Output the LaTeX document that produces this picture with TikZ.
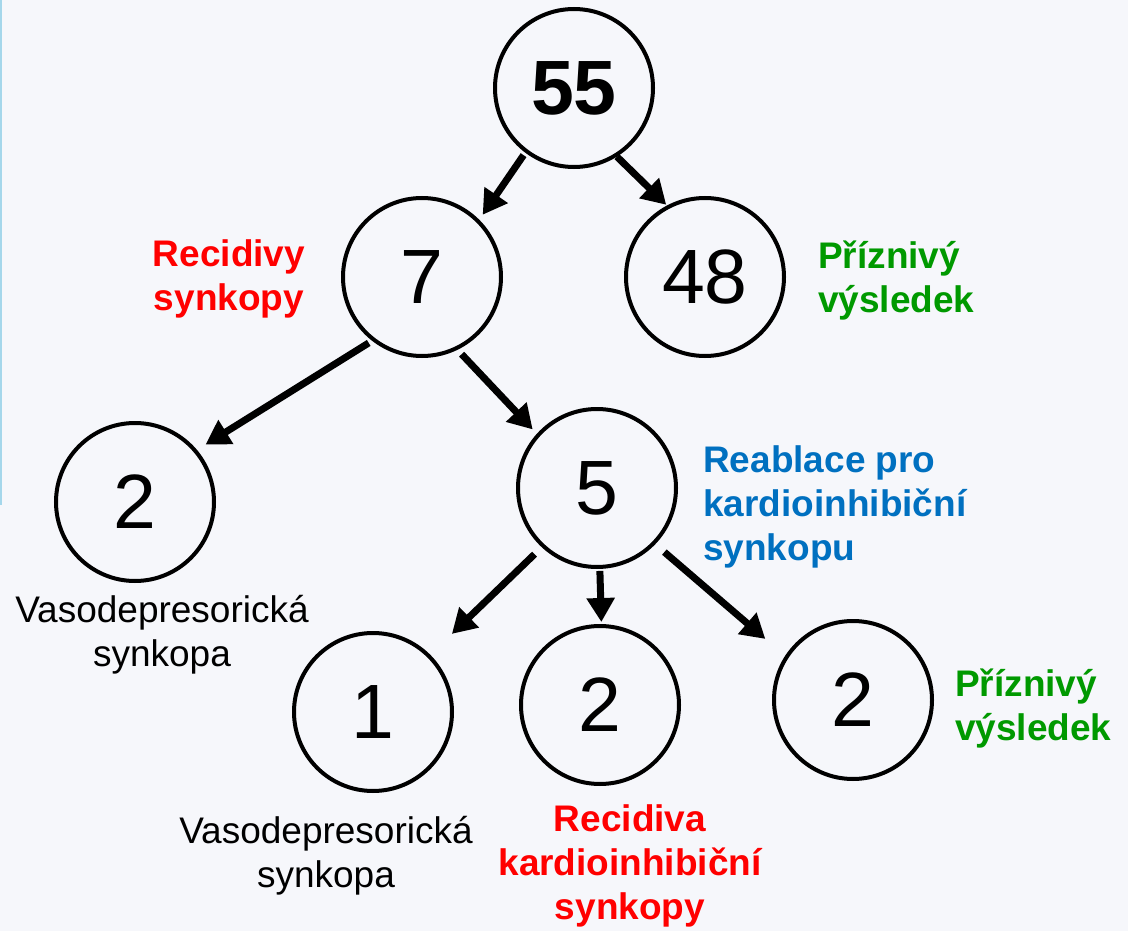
\documentclass[tikz,border=0pt]{standalone}
\usepackage{fontspec}
\setmainfont{Liberation Sans}
\usetikzlibrary{arrows.meta}
\definecolor{bg}{RGB}{246,247,251}
\definecolor{edge}{RGB}{165,215,235}
\definecolor{myred}{RGB}{255,0,0}
\definecolor{mygreen}{RGB}{0,153,0}
\definecolor{myblue}{RGB}{0,112,192}
\begin{document}
\begin{tikzpicture}[x=1pt,y=-1pt,
  circ/.style={circle, draw, line width=4pt, minimum size=158pt, inner sep=0pt, font=\fontsize{77}{80}\selectfont},
  arr/.style={line width=7pt, -{Triangle[length=24pt,width=27pt]}},
  lab/.style={font=\fontsize{37}{44}\selectfont, align=center, inner sep=0pt},
  labl/.style={lab, align=left, anchor=west},
  bl/.style={font=\bfseries\fontsize{37}{44}\selectfont}
]
\fill[bg] (0,0) rectangle (1128,931);
\useasboundingbox (0,0) rectangle (1128,931);
\draw[edge, line width=2pt] (1,0) -- (1,505);

\node[circ, font=\bfseries\fontsize{77}{80}\selectfont] (n55) at (574,88) {55};
\node[circ] (n7) at (422,277) {7};
\node[circ] (n48) at (705,277) {48};
\node[circ] (n2a) at (135,502) {2};
\node[circ] (n5) at (597,488) {5};
\node[circ] (n1) at (373,712) {1};
\node[circ] (n2b) at (600,705) {2};
\node[circ] (n2c) at (853,700) {2};

\draw[arr, shorten <=3pt, shorten >=6pt] (n55.233) -- (n7.45);
\draw[arr, shorten >=1pt] (n55.302) -- (n48.118);
\draw[arr, shorten <=4pt, shorten >=10pt] (n7.232) -- (n2a.40);
\draw[arr, shorten <=6pt, shorten >=6pt] (n7.296) -- (n5.138);
\draw[arr, shorten <=10pt, shorten >=30pt] (n5.227) -- (n1.45);
\draw[arr, shorten <=2pt, shorten >=2pt] (n5.272) -- (n2b.89);
\draw[arr, shorten <=12pt, shorten >=26pt] (n5.316) -- (n2c.147);

\node[lab, bl, myred, align=center] (l1) at (229,279) {Recidivy\\synkopy};
\node[labl, bl, mygreen] (l2) at (818,281) {Příznivý\\výsledek};
\node[labl, bl, myblue] (l3) at (703,507) {Reablace pro\\kardioinhibiční\\synkopu};
\node[lab] (l4) at (162,635) {Vasodepresorická\\synkopa};
\node[labl, bl, mygreen] (l5) at (955,709) {Příznivý\\výsledek};
\node[lab] (l6) at (326,856) {Vasodepresorická\\synkopa};
\node[lab, bl, myred] (l7) at (630,866) {Recidiva\\kardioinhibiční\\synkopy};
\end{tikzpicture}
\end{document}
